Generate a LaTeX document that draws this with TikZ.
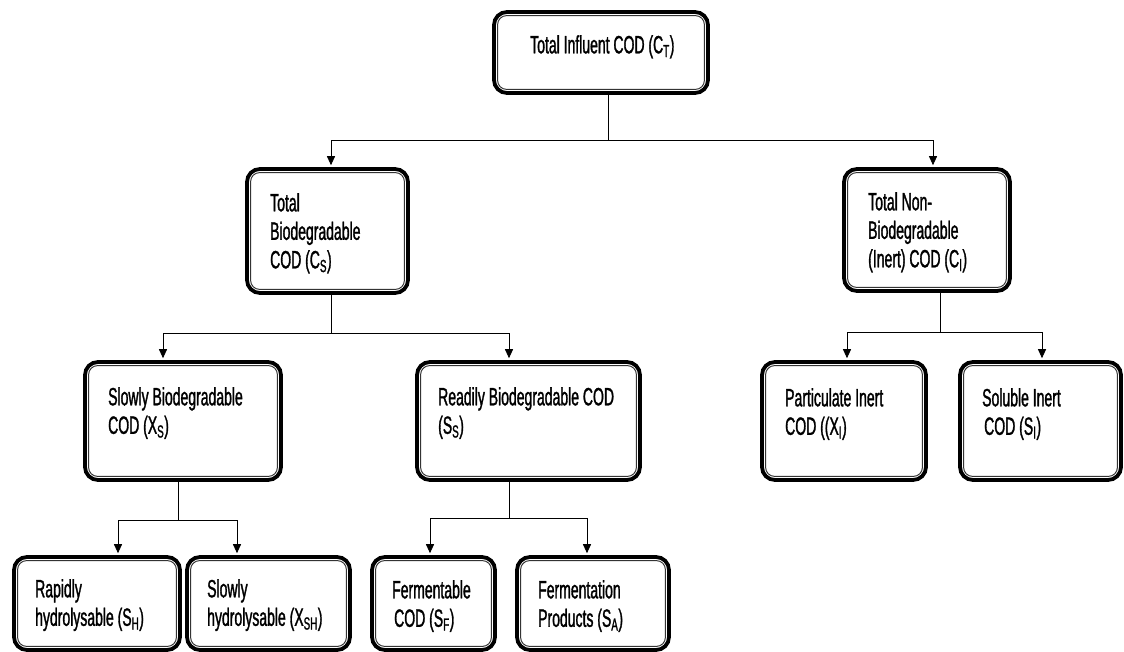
\documentclass[tikz,border=0pt]{standalone}
\usepackage{fontspec}
\setmainfont{Liberation Sans}[FakeStretch=0.56,FakeBold=1.2]
\usetikzlibrary{arrows.meta,calc}
\tikzset{
  cbox/.style={draw=black, line width=3.8pt, rounded corners=13pt, inner sep=0pt, fill=white},
  innerline/.style={draw=black!80, line width=1pt, rounded corners=9pt},
  ctext/.style={anchor=north west, inner sep=0pt, align=left, font=\fontsize{25}{28.5}\selectfont, text=black},
  link/.style={draw=black, line width=0.9pt},
  arr/.style={link, -{Triangle[length=9pt,width=8pt]}, shorten >=1.9pt}
}
\begin{document}
\begin{tikzpicture}[x=1pt,y=-1pt]
\useasboundingbox (0,0) rectangle (1124,651);
\clip (0,0) rectangle (1124,651);
% boxes
\node[cbox, minimum width=214pt, minimum height=81pt] (top) at (601,52.5) {};
\node[cbox, minimum width=161pt, minimum height=124pt] (tb) at (327.5,231) {};
\node[cbox, minimum width=166pt, minimum height=122pt] (tn) at (927,230) {};
\node[cbox, minimum width=196pt, minimum height=118pt] (sb) at (183,421) {};
\node[cbox, minimum width=223pt, minimum height=118pt] (rb) at (528.5,421) {};
\node[cbox, minimum width=164pt, minimum height=118pt] (pi) at (844,421) {};
\node[cbox, minimum width=161pt, minimum height=118pt] (si) at (1040.5,421) {};
\node[cbox, minimum width=166pt, minimum height=93pt] (rh) at (97,603.5) {};
\node[cbox, minimum width=163pt, minimum height=93pt] (sh) at (268.5,603.5) {};
\node[cbox, minimum width=123pt, minimum height=93pt] (fc) at (433.5,603.5) {};
\node[cbox, minimum width=152pt, minimum height=93pt] (fp) at (593,603.5) {};
\foreach \n in {top,tb,tn,sb,rb,pi,si,rh,sh,fc,fp}
  \draw[innerline] ([xshift=5.5pt,yshift=-5.5pt]\n.north west) rectangle ([xshift=-5.5pt,yshift=5.5pt]\n.south east);
% texts
\node[ctext] (ttop) at (530,35) {Total Influent COD (C\textsubscript{T})};
\node[ctext] (ttb) at (270,193) {Total\\Biodegradable\\COD (C\textsubscript{S})};
\node[ctext] (ttn) at (868,192) {Total Non-\\Biodegradable\\(Inert) COD (C\textsubscript{I})};
\node[ctext] (tsb) at (108,387) {Slowly Biodegradable\\COD (X\textsubscript{S})};
\node[ctext] (trb) at (438,387) {Readily Biodegradable COD\\(S\textsubscript{S})};
\node[ctext] (tpi) at (785,388) {Particulate Inert\\COD ((X\textsubscript{I})};
\node[ctext] (tsi) at (982,388) {Soluble Inert\\\hspace*{2pt}COD (S\textsubscript{I})};
\node[ctext] (trh) at (35,579) {Rapidly\\hydrolysable (S\textsubscript{H})};
\node[ctext] (tsh) at (207,579) {Slowly\\hydrolysable (X\textsubscript{SH})};
\node[ctext] (tfc) at (392,580) {Fermentable\\\hspace*{2pt}COD (S\textsubscript{F})};
\node[ctext] (tfp) at (538,580) {Fermentation\\Products (S\textsubscript{A})};
% junctions
\coordinate (j1) at (608,140);
\coordinate (j2) at (331,333);
\coordinate (j3) at (940,332);
\coordinate (j4) at (178,520);
\coordinate (j5) at (509,518);
% connectors
\draw[link] (top.south -| j1) -- (j1);
\draw[arr] (j1) -| ([xshift=3.5pt]tb.north);
\draw[arr] (j1) -| ([xshift=6pt]tn.north);
\draw[link] (tb.south -| j2) -- (j2);
\draw[arr] (j2) -| ([xshift=-20pt]sb.north);
\draw[arr] (j2) -| ([xshift=-19.5pt]rb.north);
\draw[link] (tn.south -| j3) -- (j3);
\draw[arr] (j3) -| ([xshift=3pt]pi.north);
\draw[arr] (j3) -| ([xshift=1.5pt]si.north);
\draw[link] (sb.south -| j4) -- (j4);
\draw[arr] (j4) -| ([xshift=21pt]rh.north);
\draw[arr] (j4) -| ([xshift=-31.5pt]sh.north);
\draw[link] (rb.south -| j5) -- (j5);
\draw[arr] (j5) -| ([xshift=-3.5pt]fc.north);
\draw[arr] (j5) -| ([xshift=-6pt]fp.north);
\end{tikzpicture}
\end{document}
